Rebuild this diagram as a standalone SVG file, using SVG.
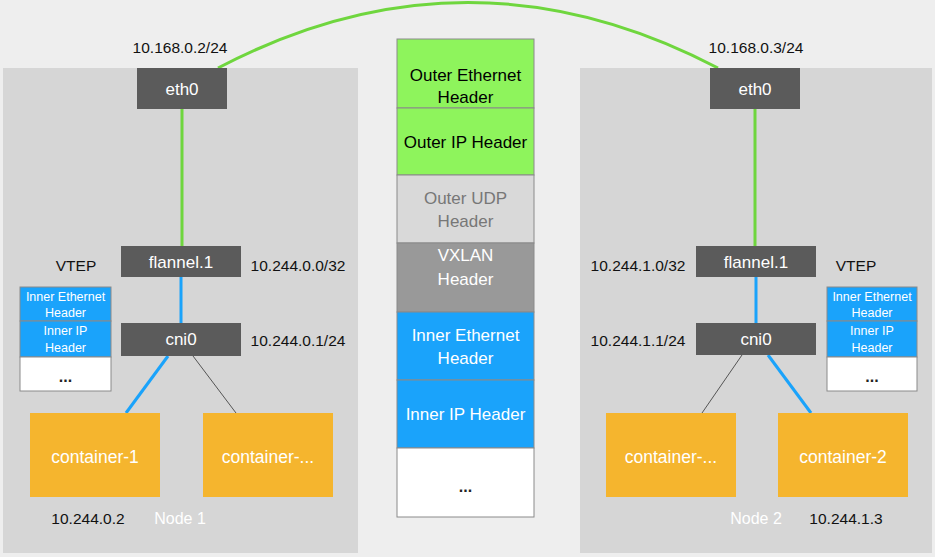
<svg xmlns="http://www.w3.org/2000/svg" width="935" height="557" viewBox="0 0 935 557">
<style>
text{font-family:"Liberation Sans",Arial,sans-serif;text-anchor:middle;dominant-baseline:central}
.panel{fill:#d6d6d6}
.dev{fill:#5b5b5b}
.dev-t{fill:#ffffff;font-size:17px}
.lbl{fill:#111;font-size:15.5px}
.cont{fill:#f5b52e}
.cont-t{fill:#fff;font-size:17.5px}
.seg{stroke:#8a8a8a;stroke-width:1}
.g{fill:#8ef45c}
.b{fill:#1aa3fb}
.w{fill:#ffffff}
.sm{font-size:12.5px;fill:#fff}
.st{font-size:17px}
.dots{font-size:16px;fill:#222;font-weight:bold}
</style>
<rect x="0" y="0" width="935" height="557" fill="#eeeeee"/>
<rect id="node1" class="panel" x="3" y="68" width="355" height="485"/>
<rect id="node2" class="panel" x="580" y="68" width="352" height="485"/>
<g id="connectors" fill="none">
<path d="M218,68 Q468,-63 718,68" stroke="#6fd63e" stroke-width="3"/>
<line x1="182" y1="109" x2="182" y2="246" stroke="#6fd63e" stroke-width="3"/>
<line x1="755" y1="109" x2="755" y2="246" stroke="#6fd63e" stroke-width="3"/>
<line x1="181" y1="277" x2="181" y2="323" stroke="#1aa3fb" stroke-width="3"/>
<line x1="756" y1="277" x2="756" y2="323" stroke="#1aa3fb" stroke-width="3"/>
<line x1="168" y1="356" x2="126" y2="413" stroke="#1aa3fb" stroke-width="3"/>
<line x1="193" y1="356" x2="236" y2="413" stroke="#555" stroke-width="1"/>
<line x1="742" y1="355" x2="702" y2="413" stroke="#555" stroke-width="1"/>
<line x1="768" y1="355" x2="811" y2="413" stroke="#1aa3fb" stroke-width="3"/>
</g>
<g id="eth0-left"><rect class="dev" x="137" y="68" width="90" height="41"/><text class="dev-t" x="182" y="89">eth0</text></g>
<g id="eth0-right"><rect class="dev" x="710" y="68" width="90" height="41"/><text class="dev-t" x="755" y="89">eth0</text></g>
<text class="lbl" x="180" y="47">10.168.0.2/24</text>
<text class="lbl" x="756" y="47">10.168.0.3/24</text>
<g id="flannel-left"><rect class="dev" x="121" y="246" width="120" height="31"/><text class="dev-t" x="181" y="262">flannel.1</text></g>
<g id="flannel-right"><rect class="dev" x="696" y="246" width="120" height="31"/><text class="dev-t" x="756" y="262">flannel.1</text></g>
<g id="cni0-left"><rect class="dev" x="121" y="323" width="120" height="33"/><text class="dev-t" x="181" y="339">cni0</text></g>
<g id="cni0-right"><rect class="dev" x="696" y="323" width="120" height="32"/><text class="dev-t" x="756" y="339">cni0</text></g>
<text class="lbl" x="76" y="265">VTEP</text>
<text class="lbl" x="298" y="265">10.244.0.0/32</text>
<text class="lbl" x="298" y="340">10.244.0.1/24</text>
<text class="lbl" x="856" y="265">VTEP</text>
<text class="lbl" x="638" y="265">10.244.1.0/32</text>
<text class="lbl" x="638" y="340">10.244.1.1/24</text>
<g id="inner-stack-left" class="seg">
<rect class="b" x="20" y="287" width="91" height="34"/>
<rect class="b" x="20" y="321" width="91" height="36"/>
<rect class="w" x="20" y="357" width="91" height="34"/>
</g>
<text class="sm" x="65.5" y="297">Inner Ethernet</text>
<text class="sm" x="65.5" y="313">Header</text>
<text class="sm" x="65.5" y="331">Inner IP</text>
<text class="sm" x="65.5" y="348">Header</text>
<text class="dots" x="65.5" y="376">...</text>
<g id="inner-stack-right" class="seg">
<rect class="b" x="827" y="287" width="90" height="34"/>
<rect class="b" x="827" y="321" width="90" height="36"/>
<rect class="w" x="827" y="357" width="90" height="34"/>
</g>
<text class="sm" x="872" y="297">Inner Ethernet</text>
<text class="sm" x="872" y="313">Header</text>
<text class="sm" x="872" y="331">Inner IP</text>
<text class="sm" x="872" y="348">Header</text>
<text class="dots" x="872" y="376">...</text>
<g id="container-1"><rect class="cont" x="30" y="413" width="130" height="84"/><text class="cont-t" x="95" y="457">container-1</text></g>
<g id="container-l2"><rect class="cont" x="203" y="413" width="130" height="84"/><text class="cont-t" x="268" y="457">container-...</text></g>
<g id="container-r2"><rect class="cont" x="606" y="413" width="130" height="84"/><text class="cont-t" x="671" y="457">container-...</text></g>
<g id="container-2"><rect class="cont" x="778" y="413" width="130" height="84"/><text class="cont-t" x="843" y="457">container-2</text></g>
<text class="lbl" x="88" y="518">10.244.0.2</text>
<text x="180" y="518" font-size="16" fill="#fff">Node 1</text>
<text x="756" y="518" font-size="16" fill="#fff">Node 2</text>
<text class="lbl" x="846" y="518">10.244.1.3</text>
<g id="packet" class="seg">
<rect class="g" x="397" y="39" width="137" height="69"/>
<rect class="g" x="397" y="108" width="137" height="67"/>
<rect fill="#d9d9d9" x="397" y="175" width="137" height="68"/>
<rect fill="#999999" x="397" y="243" width="137" height="69"/>
<rect class="b" x="397" y="312" width="137" height="68"/>
<rect class="b" x="397" y="380" width="137" height="68"/>
<rect class="w" x="397" y="448" width="137" height="69"/>
</g>
<text class="st" x="465.5" y="75" fill="#000">Outer Ethernet</text>
<text class="st" x="465.5" y="97" fill="#000">Header</text>
<text class="st" x="465.5" y="142" fill="#000">Outer IP Header</text>
<text class="st" x="465.5" y="198" fill="#777">Outer UDP</text>
<text class="st" x="465.5" y="221" fill="#777">Header</text>
<text class="st" x="465.5" y="255" fill="#fff">VXLAN</text>
<text class="st" x="465.5" y="279" fill="#fff">Header</text>
<text class="st" x="465.5" y="335" fill="#fff">Inner Ethernet</text>
<text class="st" x="465.5" y="358" fill="#fff">Header</text>
<text class="st" x="465.5" y="414" fill="#fff">Inner IP Header</text>
<text class="dots" x="465.5" y="486">...</text>
</svg>
